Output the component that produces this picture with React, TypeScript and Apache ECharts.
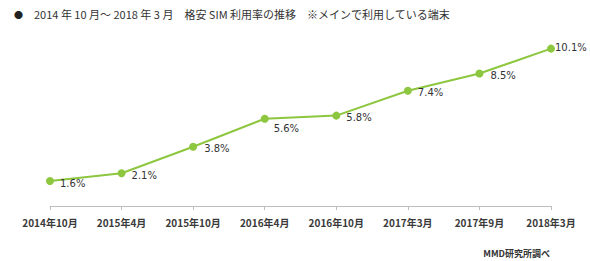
import React, { useEffect, useRef } from "react";
import * as echarts from "echarts";

const categories = [
  "2014年10月",
  "2015年4月",
  "2015年10月",
  "2016年4月",
  "2016年10月",
  "2017年3月",
  "2017年9月",
  "2018年3月",
];
const usageRate = [1.6, 2.1, 3.8, 5.6, 5.8, 7.4, 8.5, 10.1];
// per-point label nudges [dx, dy]
const labelOffsets: [number, number][] = [
  [1, 2],
  [1, 2],
  [2, 2],
  [0, 10],
  [1, 2],
  [1, 2],
  [2, 2],
  [-5, -1],
];
const titleText = "2014 年 10 月～ 2018 年 3 月　格安 SIM 利用率の推移　※メインで利用している端末";
const sourceText = "MMD研究所調べ";

const GREEN = "#8dc63f";
const CJK = '"Noto Sans CJK JP", "Noto Sans", sans-serif';

export default function App() {
  const ref = useRef<HTMLDivElement>(null);

  useEffect(() => {
    if (!ref.current) return;
    const chart = echarts.init(ref.current, undefined, { renderer: "svg" });
    chart.setOption({
      animation: false,
      backgroundColor: "#ffffff",
      grid: { left: 50, right: 39, top: 19, bottom: 55, containLabel: false },
      xAxis: {
        type: "category",
        data: categories,
        boundaryGap: false,
        axisLine: { show: true, lineStyle: { color: "#bdbdbd", width: 1 } },
        axisTick: { show: true, interval: 0, length: 4, lineStyle: { color: "#bdbdbd" } },
        axisLabel: {
          interval: 0,
          margin: 11,
          color: "#3a3a3a",
          fontSize: 10,
          fontWeight: "bold",
          fontFamily: CJK,
        },
        splitLine: { show: false },
      },
      yAxis: {
        type: "value",
        min: 0,
        max: 12,
        show: false,
        splitLine: { show: false },
      },
      series: [
        {
          type: "line",
          data: usageRate.map((v, i) => ({
            value: v,
            label: { offset: labelOffsets[i] },
          })),
          symbol: "circle",
          symbolSize: 8,
          lineStyle: { color: GREEN, width: 2 },
          itemStyle: { color: GREEN },
          label: {
            show: true,
            position: "right",
            distance: 5,
            formatter: (p: any) => `${p.value}%`,
            color: "#333333",
            fontSize: 10,
            fontFamily: '"DejaVu Sans", sans-serif',
          },
        },
      ],
      graphic: [
        {
          type: "text",
          left: 14,
          top: 10,
          style: { text: "●", fontSize: 9, fill: "#222222", fontFamily: CJK },
        },
        {
          type: "text",
          left: 34,
          top: 8,
          style: { text: titleText, fontSize: 11, fill: "#333333", fontFamily: CJK },
        },
        {
          type: "text",
          right: 40,
          top: 249,
          style: {
            text: sourceText,
            fontSize: 9,
            fontWeight: "bold",
            fill: "#333333",
            fontFamily: CJK,
          },
        },
      ],
    });
    return () => chart.dispose();
  }, []);

  return (
    <div
      ref={ref}
      style={{ position: "absolute", left: 0, top: 0, width: 590, height: 261 }}
    />
  );
}
